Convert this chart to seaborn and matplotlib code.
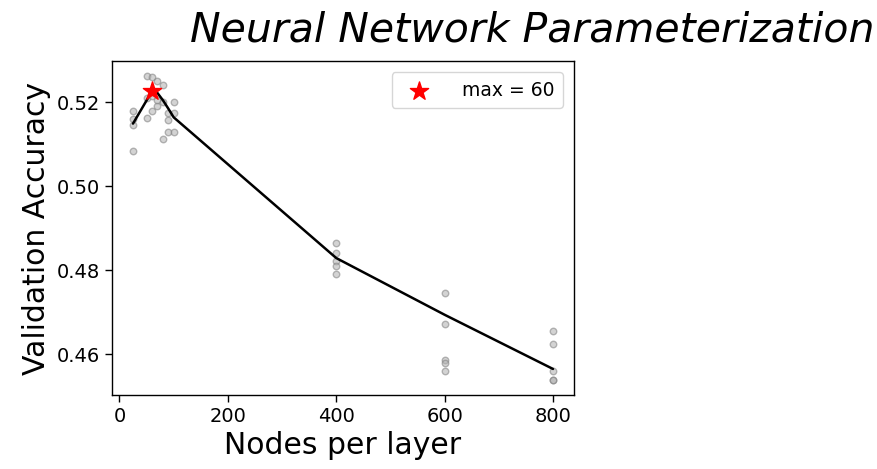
import matplotlib
matplotlib.use("Agg")
import matplotlib.pyplot as plt
import seaborn as sns
import pandas as pd

# Validation accuracy of each trained network, grouped by width
nodes = [25, 25, 25, 25,
         50, 50, 50,
         60, 60, 60, 60,
         70, 70, 70,
         80, 80, 80,
         90, 90, 90,
         100, 100, 100,
         400, 400, 400, 400, 400,
         600, 600, 600, 600, 600,
         800, 800, 800, 800, 800]
accuracy = [0.5178, 0.5161, 0.5145, 0.5084,
            0.5262, 0.5163, 0.5210,
            0.5259, 0.5180, 0.5225, 0.5215,
            0.5250, 0.5190, 0.5205,
            0.5242, 0.5112, 0.5200,
            0.5157, 0.5130, 0.5175,
            0.5200, 0.5174, 0.5129,
            0.4865, 0.4840, 0.4822, 0.4810, 0.4792,
            0.4745, 0.4673, 0.4587, 0.4580, 0.4560,
            0.4655, 0.4624, 0.4560, 0.4539, 0.4539]

# Smoothed accuracy trend across widths
trend_nodes = [25, 60, 70, 80, 90, 100, 400, 600, 800]
trend_acc = [0.5149, 0.5226, 0.5222, 0.5205, 0.5185, 0.5164, 0.4829, 0.4694, 0.4565]

best_nodes = 60
best_acc = 0.5226

runs = pd.DataFrame({"nodes": nodes, "accuracy": accuracy})
trend = pd.DataFrame({"nodes": trend_nodes, "accuracy": trend_acc})

sns.set_style("ticks")
plt.rcParams["font.family"] = ["DejaVu Sans"]
for key in ["text.color", "axes.labelcolor", "xtick.color", "ytick.color",
            "axes.edgecolor"]:
    plt.rcParams[key] = "black"

W, H = 877, 469
fig = plt.figure(figsize=(W / 100, H / 100), dpi=100)
ax = fig.add_axes([112 / W, 1 - 395 / H, (574 - 112) / W, (395 - 61) / H])

sns.scatterplot(data=runs, x="nodes", y="accuracy", ax=ax, color="#b0b0b0",
                alpha=0.55, s=22, edgecolor="#808080", linewidth=1.0,
                legend=False)
sns.lineplot(data=trend, x="nodes", y="accuracy", ax=ax, color="black",
             linewidth=1.8, legend=False)
ax.scatter([best_nodes], [best_acc], marker="*", s=190, color="red",
           zorder=5, label=f"max = {best_nodes}")

ax.set_xlim(-13.75, 838.75)
ax.set_ylim(0.4503, 0.5298)
ax.set_xticks([0, 200, 400, 600, 800])
ax.set_yticks([0.46, 0.48, 0.50, 0.52])
ax.tick_params(labelsize=14, length=5, width=1, colors="black")
for sp in ax.spines.values():
    sp.set_linewidth(1.0)
    sp.set_color("black")

ax.set_xlabel("Nodes per layer", fontsize=21.5, color="black")
ax.set_ylabel("Validation Accuracy", fontsize=21.5, color="black")

ax.legend(loc="upper right", fontsize=13.5, handletextpad=1.3,
          borderaxespad=0.6, borderpad=0.45)

fig.text(190 / W, 1 - 42 / H, "Neural Network Parameterization",
         fontsize=29.5, fontstyle="italic", ha="left", va="baseline",
         color="black")

fig.savefig("out.png", dpi=100)
